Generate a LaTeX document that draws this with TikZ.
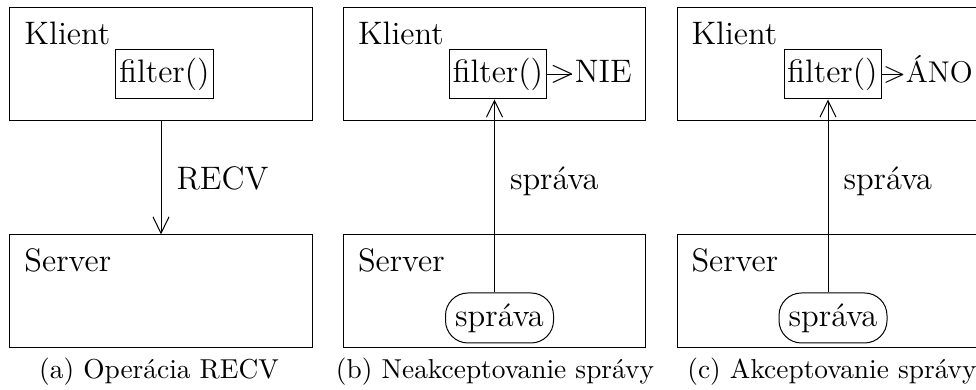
\documentclass[tikz,border=0pt]{standalone}
\usepackage{fontspec}
\usetikzlibrary{arrows.meta}
\newcommand\mainf{\fontsize{13}{15.6}\selectfont}
\newcommand\smallmainf{\fontsize{12}{14.4}\selectfont}
\newcommand\capf{\fontsize{10.95}{13.6}\selectfont}
\begin{document}
\begin{tikzpicture}[x=0.4pt,y=-0.4pt,
  big/.style={draw, minimum width=120.8pt, minimum height=45.2pt, inner sep=0},
  fbox/.style={draw, minimum width=38.8pt, minimum height=19.6pt, inner sep=0, font=\mainf},
  msg/.style={draw, rounded corners=9pt, minimum width=43.2pt, minimum height=20pt, inner sep=0, font=\mainf},
  txt/.style={anchor=base west, inner sep=0, font=\mainf},
  captext/.style={anchor=base, inner sep=0, font=\capf},
  arr/.style={-{Straight Barb[length=6.6pt,width=6.4pt]}},
]
\useasboundingbox (0,0) rectangle (976,390);

% ---- panel (a)
\node[big] (ka) at (161,64.5) {};
\node[txt] (kat) at (24,45) {Klient};
\node[fbox] (fa) at (164.5,74.5) {filter()};
\node[big] (sa) at (161,291.5) {};
\node[txt] (sat) at (24,272) {Server};
\draw[arr] (ka.south) -- (sa.north);
\node[txt] (la) at (176,190) {RECV};
\node[captext] (ca) at (159,379) {(a) Operácia RECV};

% ---- panel (b)
\begin{scope}[xshift=133.4pt]
\node[big] (kb) at (161,64.5) {};
\node[txt] (kbt) at (24,45) {Klient};
\node[fbox] (fb) at (164.5,74.5) {filter()};
\node[txt] (nb) at ([xshift=1pt,yshift=-3.3pt]fb.east) {>NIE};
\coordinate (vb) at ([xshift=8.8pt]nb.base west |- fb.east);
\draw (fb.east) -- (vb);
\node[big] (sb) at (161,291.5) {};
\node[txt] (sbt) at (24,272) {Server};
\node[msg] (mb) at (166,318) {správa};
\draw[arr] (mb.north -| kb.south) -- (fb.south -| kb.south);
\node[txt] (lb) at (176,190) {správa};
\node[captext] (cb) at (161.5,379) {(b) Neakceptovanie správy};
\end{scope}

% ---- panel (c)
\begin{scope}[xshift=266.8pt]
\node[big] (kc) at (161,64.5) {};
\node[txt] (kct) at (24,45) {Klient};
\node[fbox] (fc) at (165.5,74.5) {filter()};
\node[txt, font=\smallmainf] (nc) at ([xshift=0.4pt,yshift=-3.2pt]fc.east) {>ÁNO};
\coordinate (vc) at ([xshift=8.3pt]nc.base west |- fc.east);
\draw (fc.east) -- (vc);
\node[big] (sc) at (161,291.5) {};
\node[txt] (sct) at (24,272) {Server};
\node[msg] (mc) at (166,318) {správa};
\draw[arr] (mc.north -| kc.south) -- (fc.south -| kc.south);
\node[txt] (lc) at (176,190) {správa};
\node[captext] (cc) at (165,379) {(c) Akceptovanie správy};
\end{scope}
\end{tikzpicture}
\end{document}
